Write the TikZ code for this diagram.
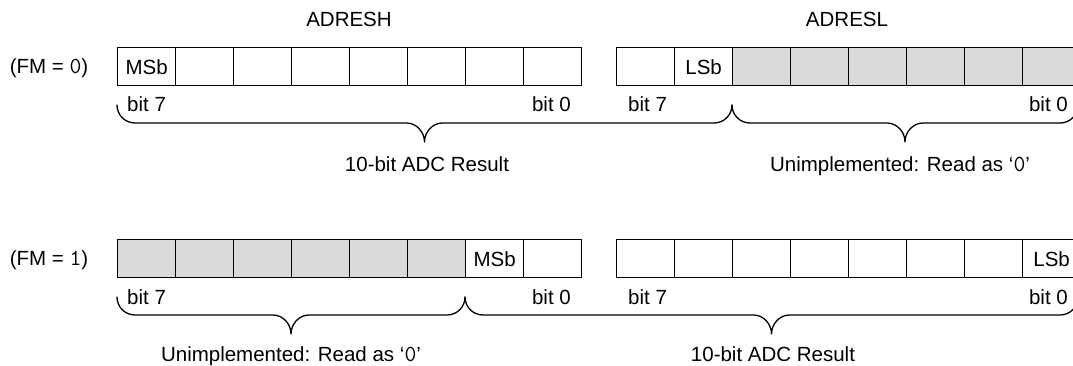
\documentclass[tikz,border=0pt]{standalone}
\usepackage{fontspec}
\setmainfont{Liberation Sans}
\newcommand\mz{\fontsize{23}{24}\selectfont\ttfamily}
\newcommand\mybrace[3]{%
  \draw[bracestyle] (#1,#3-18) .. controls (#1,#3-8) and (#1+8,#3) .. (#1+18,#3)
    -- ({(#1+#2)/2-18},#3) .. controls ({(#1+#2)/2-8},#3) and ({(#1+#2)/2},#3+9) .. ({(#1+#2)/2},#3+19)
    .. controls ({(#1+#2)/2},#3+9) and ({(#1+#2)/2+8},#3) .. ({(#1+#2)/2+18},#3)
    -- (#2-18,#3) .. controls (#2-8,#3) and (#2,#3-8) .. (#2,#3-18);}
\begin{document}
\begin{tikzpicture}[x=1pt,y=-1pt,
  txt/.style={font=\fontsize{20.5}{24}\selectfont, inner sep=0pt, anchor=base},
  cell/.style={draw, line width=1.3pt, minimum width=58pt, minimum height=38pt,
    inner sep=0pt, anchor=north west, font=\fontsize{20.5}{24}\selectfont},
  unimp/.style={cell, fill=gray!30},
  bracestyle/.style={line width=1.3pt, line cap=round, line join=round}]
\useasboundingbox (0,0) rectangle (1073,366);
% titles
\node[txt] (tH) at (349,27) {ADRESH};
\node[txt] (tL) at (847,27) {ADRESL};
\node[txt] (fm0) at (49,73.5) {(FM = {\mz 0})};
\node[txt] (fm1) at (49,265.5) {(FM = {\mz 1})};
% row 1 (FM = 0)
\foreach \i in {0,...,7} {
  \node[cell] (a\i) at (117+\i*58,47) {};
}
\foreach \i in {0,1} {
  \node[cell] (b\i) at (616+\i*58,47) {};
}
\foreach \i in {2,...,7} {
  \node[unimp] (b\i) at (616+\i*58,47) {};
}
\node[txt] (msb1) at ([yshift=-7.5pt]a0.center) {MSb};
\node[txt] (lsb1) at ([yshift=-7.5pt]b1.center) {LSb};
% row 2 (FM = 1)
\foreach \i in {0,...,5} {
  \node[unimp] (c\i) at (117+\i*58,239) {};
}
\foreach \i in {6,7} {
  \node[cell] (c\i) at (117+\i*58,239) {};
}
\foreach \i in {0,...,7} {
  \node[cell] (d\i) at (616+\i*58,239) {};
}
\node[txt] (msb2) at ([yshift=-7.5pt]c6.center) {MSb};
\node[txt] (lsb2) at ([yshift=-7.5pt]d7.center) {LSb};
% bit labels
\node[txt, anchor=base west] (a7l) at (127,112) {bit 7};
\node[txt, anchor=base east] (a0l) at (571,112) {bit 0};
\node[txt, anchor=base west] (b7l) at (628,112) {bit 7};
\node[txt, anchor=base east] (b0l) at (1068,112) {bit 0};
\node[txt, anchor=base west] (c7l) at (127,304) {bit 7};
\node[txt, anchor=base east] (c0l) at (571,304) {bit 0};
\node[txt, anchor=base west] (d7l) at (628,304) {bit 7};
\node[txt, anchor=base east] (d0l) at (1068,304) {bit 0};
% braces
\mybrace{117}{732}{123}
\mybrace{732}{1078}{123}
\mybrace{117}{465}{315}
\mybrace{465}{1078}{315}
% brace labels
\node[txt] (res1) at (427,171.5) {10-bit ADC Result};
\node[txt] (un1) at (900,171.5) {Unimplemented: Read as ‘{\mz 0}’};
\node[txt] (un2) at (291,361) {Unimplemented: Read as ‘{\mz 0}’};
\node[txt] (res2) at (773,361) {10-bit ADC Result};
\end{tikzpicture}
\end{document}
